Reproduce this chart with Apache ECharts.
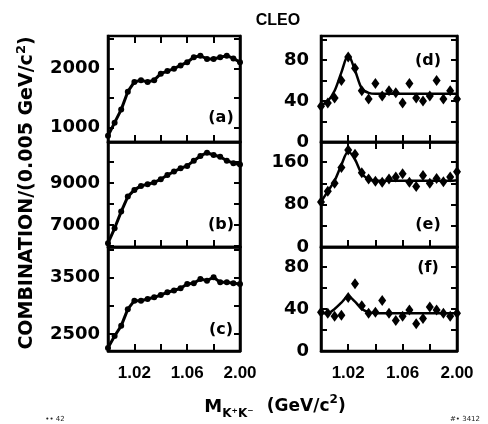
<!DOCTYPE html>
<html><head><meta charset="utf-8">
<script src="https://cdn.jsdelivr.net/npm/echarts@6/dist/echarts.min.js"></script>
<style>html,body{margin:0;padding:0;background:#fff}#c{width:488px;height:424px}</style>
</head><body><div id="c"></div>
<script>
// ---- data ----
const massBins = [1.000,1.005,1.010,1.015,1.020,1.025,1.030,1.035,1.040,1.045,1.050,
                  1.055,1.060,1.065,1.070,1.075,1.080,1.085,1.090,1.095,1.100];
const aCounts = [855,1078,1300,1605,1770,1800,1770,1800,1910,1955,1995,2050,2105,2190,2215,2160,2160,2190,2215,2170,2105];
const bCounts = [6130,6840,7635,8350,8670,8860,8940,9020,9180,9380,9540,9700,9810,10060,10285,10440,10330,10250,10060,9940,9880];
const cCounts = [2255,2465,2645,2940,3090,3090,3120,3150,3190,3240,3270,3310,3385,3400,3475,3445,3505,3415,3415,3400,3385];
const dCounts = [35,38,43,60,83,72,50,42,57,45,50,48,38,57,43,40,45,60,42,50,42];
const dFit    = [36,40,50,68,85,70,52,48,47,47,47,47,47,47,47,47,47,47,47,47,47];
const eCounts = [85,105,120,150,183,175,140,128,124,122,128,132,138,122,114,135,120,129,123,132,142];
const eFit    = [85,105,125,155,180,165,138,128,125,125,125,125,125,125,125,125,125,125,125,125,126];
const fCounts = [37,36,33,34,51,64,43,36,37,48,36,29,33,39,26,31,42,39,36,33,36];
const fFit    = [36,36,40,46,52,47,40,37,36,36,36,36,36,36,36,36,36,36,36,36,36];
const xTickValues  = [1.02,1.04,1.06,1.08];
const xLabelValues = [1.02,1.06,1.10];
const xLabelTexts  = ['1.02','1.06','2.00'];
const aTicks=[1000,1500,2000,2500], aLabels=[1000,2000];
const bTicks=[6000,7000,8000,9000,10000], bLabels=[7000,9000];
const cTicks=[2500,3000,3500,4000], cLabels=[2500,3500];
const dTicks=[20,40,60,80,100], dLabels=[0,40,80];
const eTicks=[40,80,120,160], eLabels=[0,80,160];
const fTicks=[20,40,60,80], fLabels=[0,40,80];
const panelNames = ['(a)','(b)','(c)','(d)','(e)','(f)'];

// ---- layout ----
const colLeft=[108,321], colWidth=[132,136];
const rowTop=[36,142,247], rowHeight=[106,105,104];
const panels = [
 {col:0,row:0,counts:aCounts,fit:null,min:750,max:2550,ticks:aTicks,labels:aLabels},
 {col:0,row:1,counts:bCounts,fit:null,min:5950,max:10950,ticks:bTicks,labels:bLabels},
 {col:0,row:2,counts:cCounts,fit:null,min:2200,max:4040,ticks:cTicks,labels:cLabels},
 {col:1,row:0,counts:dCounts,fit:dFit,min:0,max:103.5,ticks:dTicks,labels:dLabels},
 {col:1,row:1,counts:eCounts,fit:eFit,min:0,max:198,ticks:eTicks,labels:eLabels},
 {col:1,row:2,counts:fCounts,fit:fFit,min:0,max:99,ticks:fTicks,labels:fLabels}
];
const letterPos = [[221,118],[221,225],[221,330],[428,61],[428,225],[428,268]];
const numFont = 'DejaVu Sans';

const grid=[], xAxis=[], yAxis=[], series=[];
panels.forEach((p,i)=>{
  grid.push({left:colLeft[p.col],top:rowTop[p.row],width:colWidth[p.col],height:rowHeight[p.row],
    outerBoundsMode:'none',containLabel:false,show:true,borderColor:'#000',borderWidth:2.5,backgroundColor:'transparent'});
  const bottomRow = p.row===2;
  xAxis.push({type:'value',gridIndex:i,min:1.0,max:1.1,position:'bottom',
    axisLine:{show:true,lineStyle:{color:'#000',width:2.5}},
    axisTick:{show:true,inside:true,length:7,customValues:xTickValues,lineStyle:{color:'#000',width:2}},
    axisLabel:{show:bottomRow,customValues:xLabelValues,margin:14,color:'#000',
      fontFamily:'Liberation Sans',fontWeight:'bold',fontSize:17,
      formatter:v=>{const k=xLabelValues.findIndex(t=>Math.abs(t-v)<1e-6);return k>=0?xLabelTexts[k]:'';}},
    splitLine:{show:false}});
  xAxis.push({type:'value',gridIndex:i,min:1.0,max:1.1,position:'top',
    axisLine:{show:false},
    axisTick:{show:p.row===0,inside:true,length:7,customValues:xTickValues,lineStyle:{color:'#000',width:2}},
    axisLabel:{show:false},splitLine:{show:false}});
  yAxis.push({type:'value',gridIndex:i,min:p.min,max:p.max,position:'left',
    axisLine:{show:true,lineStyle:{color:'#000',width:2.5}},
    axisTick:{show:true,inside:true,length:6,customValues:p.ticks,lineStyle:{color:'#000',width:2}},
    axisLabel:{show:true,customValues:p.labels,margin:p.col===0?8:12,color:'#000',
      fontFamily:numFont,fontWeight:'bold',fontSize:18,formatter:v=>String(v)},
    splitLine:{show:false}});
  yAxis.push({type:'value',gridIndex:i,min:p.min,max:p.max,position:'right',
    axisLine:{show:true,lineStyle:{color:'#000',width:2.5}},
    axisTick:{show:true,inside:true,length:6,customValues:p.ticks,lineStyle:{color:'#000',width:2}},
    axisLabel:{show:false},splitLine:{show:false}});
  const pts = massBins.map((x,k)=>[x,p.counts[k]]);
  if(!p.fit){
    series.push({type:'line',xAxisIndex:2*i,yAxisIndex:2*i,data:pts,symbol:'circle',symbolSize:6,
      showSymbol:true,lineStyle:{color:'#000',width:3},itemStyle:{color:'#000',opacity:1},animation:false,silent:true});
  } else {
    series.push({type:'line',xAxisIndex:2*i,yAxisIndex:2*i,data:massBins.map((x,k)=>[x,p.fit[k]]),
      symbol:'none',smooth:0.3,lineStyle:{color:'#000',width:2.5},animation:false,silent:true});
    series.push({type:'scatter',xAxisIndex:2*i,yAxisIndex:2*i,data:pts,symbol:'diamond',symbolSize:[8,11],
      itemStyle:{color:'#000',opacity:1},animation:false,silent:true});
  }
});

const graphic = [
  {type:'text',x:278,y:21,style:{text:'CLEO',font:'bold 16px Liberation Sans',fill:'#000',align:'center',verticalAlign:'middle'}},
  {type:'text',x:27,y:193,rotation:Math.PI/2,style:{
    text:'{a|COMBINATION/(0.005 GeV/c}{s|2}{a|)}',align:'center',verticalAlign:'middle',fill:'#000',
    rich:{a:{font:'bold 19px DejaVu Sans',fill:'#000',lineHeight:24},
          s:{font:'bold 13px DejaVu Sans',fill:'#000',verticalAlign:'top',lineHeight:24}}}},
  {type:'text',x:275,y:407,style:{
    text:'{m|M}{k|K⁺K⁻}    {a|(GeV/c}{s|2}{a|)}',align:'center',verticalAlign:'middle',fill:'#000',
    rich:{m:{font:'bold 18px DejaVu Sans',fill:'#000',lineHeight:26},
          k:{font:'bold 12px DejaVu Sans',fill:'#000',verticalAlign:'bottom',lineHeight:26},
          a:{font:'bold 17px DejaVu Sans',fill:'#000',lineHeight:26},
          s:{font:'bold 12px DejaVu Sans',fill:'#000',verticalAlign:'top',lineHeight:26}}}},
  {type:'text',x:55,y:419,style:{text:'•• 42',font:'7px DejaVu Sans',fill:'#222',align:'center',verticalAlign:'middle'}},
  {type:'text',x:465,y:419,style:{text:'#• 3412',font:'7px DejaVu Sans',fill:'#222',align:'center',verticalAlign:'middle'}}
];
panelNames.forEach((n,i)=>{
  graphic.push({type:'text',x:letterPos[i][0],y:letterPos[i][1],
    style:{text:n,font:'bold 16px DejaVu Sans',fill:'#000',align:'center',verticalAlign:'middle'}});
});

const chart = echarts.init(document.getElementById('c'),null,{renderer:'canvas'});
chart.setOption({backgroundColor:'#fff',animation:false,grid,xAxis,yAxis,series,graphic});
</script></body></html>
